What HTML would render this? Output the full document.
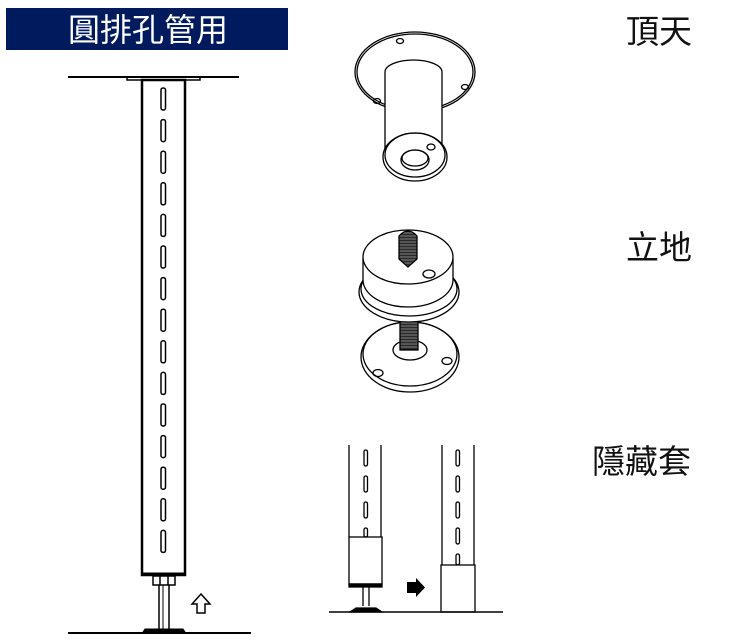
<!DOCTYPE html>
<html><head><meta charset="utf-8"><style>
html,body{margin:0;padding:0;background:#fff;}
svg{display:block;}
text{font-family:"Liberation Sans","Noto Sans CJK TC",sans-serif;}
</style></head><body>
<svg width="745" height="642" viewBox="0 0 745 642" xmlns="http://www.w3.org/2000/svg">
<defs>
<pattern id="thr" width="4" height="3" patternUnits="userSpaceOnUse">
<rect width="4" height="3" fill="#2a2a2a"/>
<rect y="1.6" width="4" height="0.8" fill="#999"/>
</pattern>
</defs>
<rect x="6" y="8" width="282" height="42" fill="#001a5e"/>
<text x="148" y="41" font-size="32" fill="#fff" text-anchor="middle">圓排孔管用</text>
<text x="626" y="43" font-size="33" fill="#111">頂天</text>
<text x="626" y="259" font-size="33" fill="#111">立地</text>
<text x="592" y="473" font-size="33" fill="#111">隱藏套</text>

<g stroke="#000" fill="none">
<!-- left pole -->
<line x1="68" y1="77" x2="239" y2="77" stroke-width="2"/>
<rect x="127" y="77" width="73" height="3" stroke-width="1.5"/>
<rect x="142" y="80" width="43" height="495" stroke-width="2.5"/>
<line x1="142" y1="574" x2="185" y2="574" stroke-width="3"/>
<g stroke-width="1.5">
<rect x="161" y="88" width="4.5" height="22" rx="2"/>
<rect x="161" y="119.6" width="4.5" height="22" rx="2"/>
<rect x="161" y="151.2" width="4.5" height="22" rx="2"/>
<rect x="161" y="182.8" width="4.5" height="22" rx="2"/>
<rect x="161" y="214.4" width="4.5" height="22" rx="2"/>
<rect x="161" y="246" width="4.5" height="22" rx="2"/>
<rect x="161" y="277.6" width="4.5" height="22" rx="2"/>
<rect x="161" y="309.2" width="4.5" height="22" rx="2"/>
<rect x="161" y="340.8" width="4.5" height="22" rx="2"/>
<rect x="161" y="372.4" width="4.5" height="22" rx="2"/>
<rect x="161" y="404" width="4.5" height="22" rx="2"/>
<rect x="161" y="435.6" width="4.5" height="22" rx="2"/>
<rect x="161" y="467.2" width="4.5" height="22" rx="2"/>
<rect x="161" y="498.8" width="4.5" height="22" rx="2"/>
<rect x="161" y="530.4" width="4.5" height="22" rx="2"/>
</g>
<rect x="153" y="576" width="22" height="9" stroke-width="1.5"/>
<line x1="160" y1="576" x2="160" y2="585" stroke-width="1.5"/>
<line x1="168" y1="576" x2="168" y2="585" stroke-width="1.5"/>
<line x1="159" y1="585" x2="159" y2="629" stroke-width="1.5"/>
<line x1="169" y1="585" x2="169" y2="629" stroke-width="1.5"/>
<line x1="163" y1="585" x2="163" y2="629" stroke-width="1"/>
<path d="M143 632 L145 629 L183 629 L185 632 Z" fill="#000" stroke-width="1"/>
<line x1="68" y1="633" x2="251" y2="633" stroke-width="2"/>
<path d="M201 594 L192 604 L197 604 L197 613 L205 613 L205 604 L210 604 Z" stroke-width="1.5"/>

<!-- ceiling fitting -->
<g stroke-width="1.3">
<ellipse cx="415" cy="72" rx="60" ry="40" fill="#fff"/>
<ellipse cx="415" cy="72" rx="58" ry="38"/>
<path d="M385 150 L385 72 A28.5 12 0 0 1 442 72 L442 150" fill="#fff"/>
<ellipse cx="415" cy="157" rx="32" ry="24" fill="#fff"/>
<ellipse cx="415" cy="155" rx="30" ry="22"/>
<ellipse cx="415" cy="160" rx="14" ry="10"/>
<ellipse cx="415" cy="158" rx="13" ry="8"/>
<ellipse cx="431" cy="147" rx="4" ry="3"/>
<ellipse cx="400" cy="41" rx="3.5" ry="2.5"/>
<ellipse cx="465" cy="87" rx="3.5" ry="2.5"/>
<ellipse cx="377" cy="101" rx="3.5" ry="2.5"/>
</g>

<!-- ground fitting -->
<g stroke-width="1.3">
<ellipse cx="410" cy="357" rx="49" ry="35" fill="#fff"/>
<ellipse cx="410" cy="354" rx="47" ry="32"/>
<ellipse cx="410" cy="350" rx="17" ry="10"/>
<rect x="400" y="320" width="18" height="30" fill="url(#thr)"/>
<ellipse cx="378" cy="373" rx="5" ry="3.5"/>
<ellipse cx="447" cy="361" rx="5" ry="3.5"/>
<ellipse cx="409" cy="292" rx="50" ry="30" fill="#fff"/>
<ellipse cx="409" cy="289" rx="48" ry="27"/>
<path d="M363 258 L363 280 A45 27 0 0 0 453 280 L453 258" fill="#fff"/>
<ellipse cx="408" cy="257" rx="45" ry="27" fill="#fff"/>
<path d="M399 236 Q408 226 417 236 L417 259 L408 267 L399 259 Z" fill="url(#thr)"/>
<ellipse cx="429" cy="274" rx="6" ry="4"/>
</g>

<!-- hidden sleeve -->
<g stroke-width="1.3">
<line x1="349" y1="445" x2="349" y2="537"/>
<line x1="381" y1="445" x2="381" y2="537"/>
<rect x="364" y="450" width="3.5" height="16" rx="1.7"/>
<rect x="364" y="476" width="3.5" height="16" rx="1.7"/>
<rect x="364" y="502" width="3.5" height="16" rx="1.7"/>
<rect x="364" y="528" width="3.5" height="9" rx="1.7"/>
<rect x="349" y="537" width="33" height="47"/>
<rect x="349" y="584" width="33" height="3" fill="#000"/>
<line x1="363" y1="587" x2="363" y2="606"/>
<line x1="369" y1="587" x2="369" y2="606"/>
<path d="M350 612 L356 608 L376 608 L382 612 Z" fill="#000"/>
<line x1="442" y1="445" x2="442" y2="565"/>
<line x1="474" y1="445" x2="474" y2="565"/>
<rect x="456" y="450" width="3.5" height="16" rx="1.7"/>
<rect x="456" y="476" width="3.5" height="16" rx="1.7"/>
<rect x="456" y="502" width="3.5" height="16" rx="1.7"/>
<rect x="456" y="528" width="3.5" height="16" rx="1.7"/>
<rect x="456" y="554" width="3.5" height="11" rx="1.7"/>
<rect x="441" y="565" width="34" height="47" fill="#fff"/>
<line x1="329" y1="612" x2="503" y2="612" stroke-width="1.5"/>
</g>
<path d="M407 582 L416 582 L416 578 L425 587.5 L416 597 L416 593 L407 593 Z" fill="#000" stroke="none"/>
</g>
</svg>
</body></html>
